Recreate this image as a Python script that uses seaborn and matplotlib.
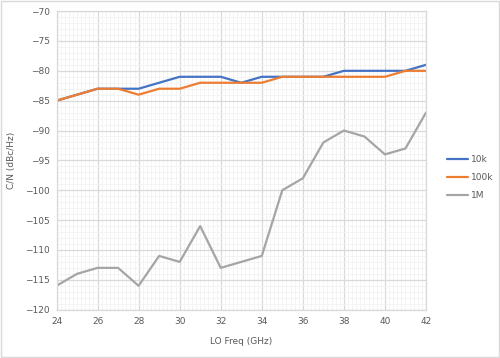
import matplotlib
matplotlib.use("Agg")
import matplotlib.pyplot as plt
import numpy as np
import pandas as pd
import seaborn as sns
from matplotlib.ticker import MultipleLocator

# Dados
lo_freq = [24, 25, 26, 27, 28, 29, 30, 31, 32, 33, 34, 35, 36, 37, 38, 39, 40, 41, 42]
cn_10k = [-85, -84, -83, -83, -83, -82, -81, -81, -81, -82, -81, -81, -81, -81, -80, -80, -80, -80, -79]
cn_100k = [-85, -84, -83, -83, -84, -83, -83, -82, -82, -82, -82, -81, -81, -81, -81, -81, -81, -80, -80]
cn_1m = [-116, -114, -113, -113, -116, -111, -112, -106, -113, -112, -111, -100, -98, -92, -90, -91, -94, -93, -87]
series = ["10k", "100k", "1M"]
cores = ["#4472C4", "#ED7D31", "#A5A5A5"]

df = pd.DataFrame({"freq": lo_freq, "10k": cn_10k, "100k": cn_100k, "1M": cn_1m})
df = df.melt(id_vars="freq", var_name="serie", value_name="cn")

sns.set_style("white")
plt.rcParams["font.family"] = ["DejaVu Sans"]

fig = plt.figure(figsize=(5, 3.58), dpi=100)
ax = fig.add_axes([0.113, 0.135, 0.739, 0.834])

sns.lineplot(data=df, x="freq", y="cn", hue="serie", hue_order=series,
             palette=cores, linewidth=1.6, ax=ax)

ax.set_xlim(24, 42)
ax.set_ylim(-120, -70)
ax.xaxis.set_major_locator(MultipleLocator(2))
ax.xaxis.set_minor_locator(MultipleLocator(0.2))
ax.yaxis.set_major_locator(MultipleLocator(5))
ax.yaxis.set_minor_locator(MultipleLocator(1))
ax.grid(which="major", color="#D9D9D9", linewidth=0.9)
ax.grid(which="minor", color="#F2F2F2", linewidth=0.6)
ax.set_axisbelow(True)
for s in ax.spines.values():
    s.set_color("#D9D9D9")
    s.set_linewidth(0.9)
ax.tick_params(which="both", length=0, labelsize=6.5, colors="#595959", pad=5)

ax.set_xlabel("LO Freq (GHz)", fontsize=6.5, color="#595959", labelpad=8)
ax.set_ylabel("C/N (dBc/Hz)", fontsize=6.5, color="#595959", labelpad=6)

ax.legend(loc="center left", bbox_to_anchor=(1.047, 0.443), frameon=False,
          borderaxespad=0, fontsize=6.5, handlelength=2.3, handletextpad=0.35,
          labelspacing=1.0, labelcolor="#595959")

# borda da figura
fig.patches.append(plt.Rectangle((0.002, 0.003), 0.996, 0.994, transform=fig.transFigure,
                                 fill=False, edgecolor="#D9D9D9", linewidth=1))

plt.savefig("out.png", dpi=100)
plt.close()
